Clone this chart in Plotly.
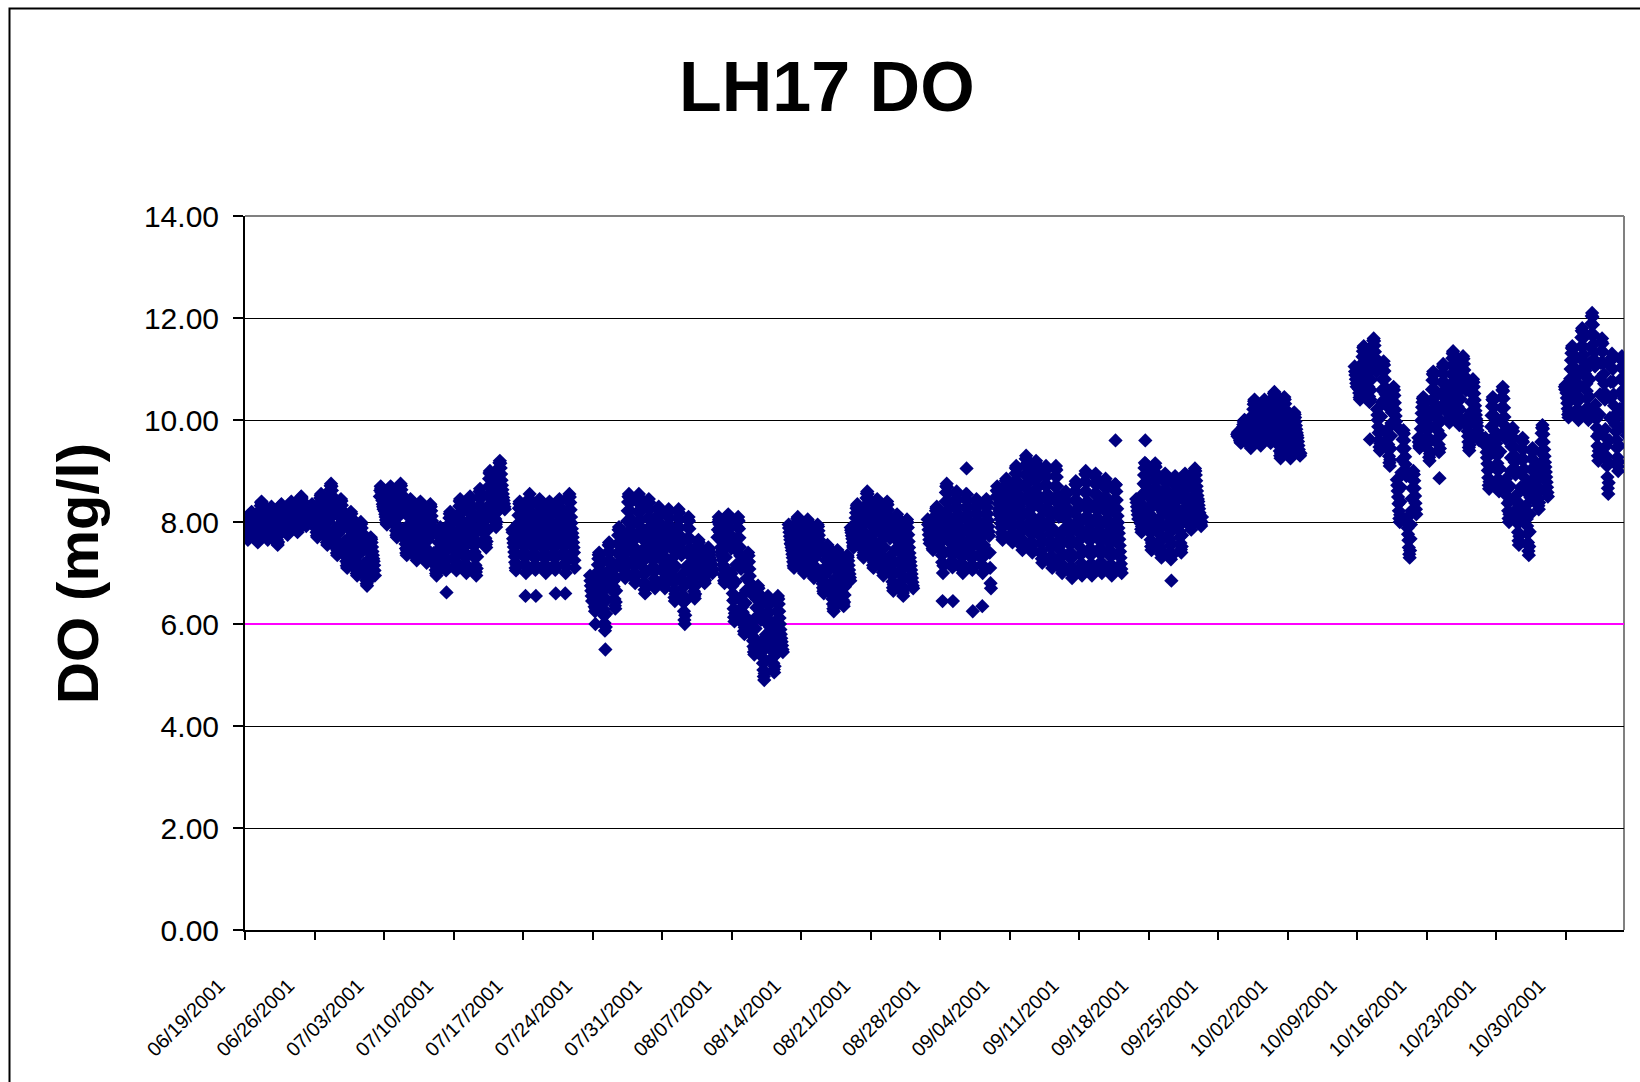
import pandas as pd
import plotly.graph_objects as go

TITLE = "LH17 DO"
Y_TITLE = "DO (mg/l)"
STANDARD_DO = 6.0
X_RANGE = ["2001-06-19 00:00", "2001-11-04 21:00"]
Y_TICKS = [0, 2, 4, 6, 8, 10, 12, 14]
X_TICK_DATES = ["2001-06-19", "2001-06-26", "2001-07-03", "2001-07-10", "2001-07-17",
                "2001-07-24", "2001-07-31", "2001-08-07", "2001-08-14", "2001-08-21",
                "2001-08-28", "2001-09-04", "2001-09-11", "2001-09-18", "2001-09-25",
                "2001-10-02", "2001-10-09", "2001-10-16", "2001-10-23", "2001-10-30"]
X_TICK_LABELS = ["06/19/2001", "06/26/2001", "07/03/2001", "07/10/2001", "07/17/2001",
                 "07/24/2001", "07/31/2001", "08/07/2001", "08/14/2001", "08/21/2001",
                 "08/28/2001", "09/04/2001", "09/11/2001", "09/18/2001", "09/25/2001",
                 "10/02/2001", "10/09/2001", "10/16/2001", "10/23/2001", "10/30/2001"]

# start time of each logger deployment; hourly readings
SEG_STARTS = ["2001-06-19 00:00", "2001-06-25 18:00", "2001-07-02 14:00", "2001-07-15 22:00",
              "2001-07-23 18:00", "2001-08-05 14:00", "2001-08-12 18:00", "2001-08-19 00:00",
              "2001-08-26 18:00", "2001-09-02 16:00", "2001-09-16 18:00", "2001-09-26 22:00",
              "2001-10-08 18:00", "2001-10-15 04:00", "2001-10-21 22:00", "2001-10-29 22:00"]

seg01 = [
    7.90, 7.87, 7.84, 7.80, 7.76, 7.72, 7.67, 7.65, 7.69, 7.77, 7.86, 7.95, 8.02, 8.09, 8.15, 8.18, 8.20, 8.18, 8.14, 8.09, 8.04, 8.00, 7.96, 7.93,
    7.97, 7.92, 7.87, 7.82, 7.76, 7.70, 7.63, 7.60, 7.66, 7.78, 7.90, 8.03, 8.14, 8.24, 8.32, 8.38, 8.40, 8.37, 8.31, 8.24, 8.17, 8.10, 8.05, 8.00,
    7.95, 7.91, 7.87, 7.83, 7.78, 7.73, 7.68, 7.65, 7.70, 7.79, 7.90, 8.00, 8.09, 8.17, 8.24, 8.28, 8.30, 8.27, 8.23, 8.17, 8.11, 8.06, 8.01, 7.98,
    7.92, 7.87, 7.82, 7.77, 7.71, 7.65, 7.58, 7.55, 7.61, 7.73, 7.85, 7.98, 8.09, 8.19, 8.27, 8.33, 8.35, 8.32, 8.26, 8.19, 8.12, 8.05, 8.00, 7.95,
    8.05, 8.01, 7.97, 7.93, 7.88, 7.83, 7.78, 7.75, 7.80, 7.89, 8.00, 8.10, 8.19, 8.27, 8.34, 8.38, 8.40, 8.37, 8.33, 8.27, 8.21, 8.16, 8.11, 8.08,
    8.12, 8.08, 8.04, 7.99, 7.94, 7.88, 7.83, 7.80, 7.86, 7.95, 8.07, 8.18, 8.28, 8.36, 8.43, 8.48, 8.50, 8.47, 8.42, 8.36, 8.30, 8.24, 8.19, 8.15,
    8.12, 8.07, 8.02, 7.97, 7.92]
seg02 = [
    8.35, 8.30, 8.22, 8.15, 8.08, 8.02,
    8.09, 8.04, 7.99, 7.93, 7.87, 7.80, 7.73, 7.70, 7.77, 7.89, 8.02, 8.16, 8.28, 8.38, 8.47, 8.52, 8.55, 8.52, 8.46, 8.38, 8.30, 8.24, 8.18, 8.13,
    8.10, 8.03, 7.96, 7.87, 7.79, 7.69, 7.60, 7.55, 7.65, 7.81, 8.01, 8.20, 8.37, 8.51, 8.63, 8.71, 8.75, 8.70, 8.62, 8.51, 8.40, 8.31, 8.22, 8.15,
    7.86, 7.79, 7.72, 7.65, 7.57, 7.48, 7.39, 7.35, 7.44, 7.59, 7.77, 7.94, 8.10, 8.23, 8.34, 8.42, 8.45, 8.41, 8.33, 8.23, 8.13, 8.04, 7.97, 7.90,
    7.61, 7.54, 7.47, 7.40, 7.32, 7.23, 7.14, 7.10, 7.19, 7.34, 7.52, 7.69, 7.85, 7.98, 8.09, 8.17, 8.20, 8.16, 8.08, 7.98, 7.88, 7.79, 7.72, 7.65,
    7.43, 7.37, 7.31, 7.23, 7.16, 7.08, 6.99, 6.95, 7.03, 7.18, 7.35, 7.52, 7.66, 7.79, 7.90, 7.97, 8.00, 7.96, 7.88, 7.79, 7.70, 7.61, 7.54, 7.48,
    7.19, 7.13, 7.07, 7.01, 6.94, 6.86, 6.79, 6.75, 6.83, 6.96, 7.11, 7.26, 7.40, 7.51, 7.61, 7.67, 7.70, 7.66, 7.60, 7.51, 7.42, 7.35, 7.28, 7.23,
    7.15, 7.05, 6.95]
seg03 = [
    8.50, 8.62, 8.70, 8.66, 8.58, 8.50, 8.42, 8.35, 8.30, 8.25,
    8.30, 8.25, 8.21, 8.15, 8.10, 8.04, 7.98, 7.95, 8.01, 8.12, 8.24, 8.36, 8.46, 8.55, 8.63, 8.68, 8.70, 8.67, 8.62, 8.55, 8.48, 8.42, 8.37, 8.33,
    8.18, 8.12, 8.06, 7.98, 7.91, 7.83, 7.74, 7.70, 7.78, 7.93, 8.10, 8.27, 8.41, 8.54, 8.65, 8.72, 8.75, 8.71, 8.63, 8.54, 8.45, 8.36, 8.29, 8.23,
    7.86, 7.79, 7.72, 7.65, 7.57, 7.48, 7.39, 7.35, 7.44, 7.59, 7.77, 7.94, 8.10, 8.23, 8.34, 8.42, 8.45, 8.41, 8.33, 8.23, 8.13, 8.04, 7.97, 7.90,
    7.78, 7.71, 7.64, 7.56, 7.48, 7.39, 7.30, 7.25, 7.34, 7.50, 7.69, 7.87, 8.03, 8.17, 8.29, 8.37, 8.40, 8.35, 8.27, 8.17, 8.07, 7.97, 7.89, 7.83,
    7.73, 7.66, 7.59, 7.51, 7.43, 7.34, 7.25, 7.20, 7.29, 7.45, 7.64, 7.82, 7.98, 8.12, 8.24, 8.32, 8.35, 8.30, 8.22, 8.12, 8.02, 7.92, 7.84, 7.78,
    7.39, 7.33, 7.27, 7.21, 7.14, 7.06, 6.99, 6.95, 7.03, 7.16, 7.31, 7.46, 7.60, 7.71, 7.81, 7.87, 7.90, 7.86, 7.80, 7.71, 7.62, 7.55, 7.48, 7.43,
    7.55, 7.48, 7.41, 7.32, 7.24, 7.14, 7.05, 6.62, 7.10, 7.26, 7.46, 7.65, 7.82, 7.96, 8.08, 8.16, 8.20, 8.15, 8.07, 7.96, 7.85, 7.76, 7.67, 7.60,
    7.69, 7.61, 7.53, 7.43, 7.33, 7.22, 7.11, 7.05, 7.16, 7.36, 7.58, 7.81, 8.00, 8.17, 8.31, 8.41, 8.45, 8.39, 8.30, 8.17, 8.04, 7.93, 7.83, 7.75,
    7.69, 7.60, 7.51, 7.41, 7.30, 7.18, 7.06, 7.00, 7.12, 7.33, 7.57, 7.81, 8.02, 8.20, 8.35, 8.46, 8.50, 8.44, 8.34, 8.20, 8.07, 7.95, 7.84, 7.75,
    7.73, 7.63, 7.53, 7.41, 7.29, 7.15, 7.02, 6.95, 7.09, 7.32, 7.60, 7.87, 8.11, 8.31, 8.48, 8.60, 8.65, 8.58, 8.46, 8.31, 8.16, 8.02, 7.90, 7.80,
    8.19, 8.10, 8.01, 7.91, 7.80, 7.68, 7.56, 7.50, 7.62, 7.83, 8.07, 8.31, 8.52, 8.70, 8.85, 8.96, 9.00, 8.94, 8.84, 8.70, 8.57, 8.45, 8.34, 8.25,
    8.50, 8.42, 8.34, 8.25, 8.16, 8.06, 7.95, 7.90, 8.00, 8.19, 8.39, 8.60, 8.78, 8.94, 9.07, 9.16, 9.20, 9.15, 9.06, 8.94, 8.82, 8.72, 8.63, 8.55,
    8.48, 8.42, 8.36, 8.30, 8.25]
seg04 = [
    7.85, 7.80,
    7.67, 7.59, 7.51, 7.41, 7.32, 7.21, 7.10, 7.05, 7.16, 7.35, 7.56, 7.78, 7.97, 8.13, 8.27, 8.36, 8.40, 8.35, 8.25, 8.13, 8.01, 7.90, 7.81, 7.73,
    7.69, 7.60, 7.51, 7.41, 7.30, 7.18, 6.55, 7.00, 7.12, 7.33, 7.57, 7.81, 8.02, 8.20, 8.35, 8.46, 8.55, 8.44, 8.34, 8.20, 8.07, 7.95, 7.84, 7.75,
    7.67, 7.58, 7.49, 7.39, 7.29, 7.17, 7.06, 6.55, 7.12, 7.32, 7.55, 7.78, 7.99, 8.16, 8.31, 8.41, 8.45, 8.39, 8.29, 8.16, 8.03, 7.91, 7.81, 7.73,
    7.64, 7.56, 7.48, 7.38, 7.28, 7.17, 7.06, 7.00, 7.11, 7.31, 7.53, 7.76, 7.95, 8.12, 8.26, 8.36, 8.40, 8.34, 8.25, 8.12, 7.99, 7.88, 7.78, 7.70,
    7.67, 7.58, 7.49, 7.39, 7.29, 7.17, 7.06, 6.60, 7.12, 7.32, 7.55, 7.78, 7.99, 8.16, 8.31, 8.41, 8.45, 8.39, 8.29, 8.16, 8.03, 7.91, 7.81, 7.73,
    7.71, 7.62, 7.53, 7.42, 7.31, 7.19, 6.60, 7.00, 7.12, 7.34, 7.59, 7.84, 8.05, 8.24, 8.40, 8.50, 8.55, 8.49, 8.38, 8.24, 8.10, 7.98, 7.87, 7.78,
    7.70, 7.60, 7.50, 7.40, 7.25, 7.10]
seg05 = [
    6.95, 6.85, 6.75, 6.65, 6.55, 6.45,
    6.75, 6.68, 6.61, 6.52, 6.44, 6.34, 6.25, 6.00, 6.30, 6.46, 6.66, 6.85, 7.02, 7.16, 7.28, 7.36, 7.40, 7.35, 7.27, 7.16, 7.05, 6.96, 6.87, 6.80,
    6.63, 6.52, 6.41, 6.29, 6.16, 6.02, 5.87, 5.50, 5.94, 6.20, 6.48, 6.77, 7.02, 7.24, 7.42, 7.55, 7.60, 7.53, 7.40, 7.24, 7.08, 6.93, 6.81, 6.70,
    7.04, 6.94, 6.84, 6.73, 6.62, 6.49, 6.36, 6.30, 6.43, 6.65, 6.91, 7.16, 7.39, 7.58, 7.74, 7.85, 7.90, 7.84, 7.72, 7.58, 7.44, 7.31, 7.20, 7.10,
    7.66, 7.56, 7.46, 7.35, 7.23, 7.10, 6.97, 6.90, 7.03, 7.26, 7.53, 7.79, 8.02, 8.22, 8.39, 8.50, 8.55, 8.48, 8.37, 8.22, 8.07, 7.94, 7.82, 7.73,
    7.61, 7.50, 7.40, 7.27, 7.15, 7.01, 6.87, 6.80, 6.94, 7.19, 7.47, 7.75, 7.99, 8.20, 8.38, 8.50, 8.55, 8.48, 8.36, 8.20, 8.04, 7.90, 7.78, 7.68,
    7.45, 7.34, 7.23, 7.10, 6.97, 6.82, 6.67, 6.60, 6.75, 7.01, 7.30, 7.60, 7.86, 8.08, 8.27, 8.39, 8.45, 8.38, 8.25, 8.08, 7.91, 7.77, 7.64, 7.53,
    7.44, 7.34, 7.24, 7.13, 7.02, 6.89, 6.76, 6.70, 6.83, 7.05, 7.31, 7.56, 7.79, 7.98, 8.14, 8.25, 8.30, 8.24, 8.12, 7.98, 7.84, 7.71, 7.60, 7.50,
    7.41, 7.32, 7.23, 7.12, 7.01, 6.89, 6.76, 6.70, 6.82, 7.04, 7.29, 7.54, 7.75, 7.94, 8.10, 8.20, 8.25, 8.19, 8.08, 7.94, 7.80, 7.68, 7.57, 7.48,
    7.28, 7.17, 7.06, 6.94, 6.81, 6.67, 6.52, 6.45, 6.59, 6.85, 7.13, 7.42, 7.67, 7.89, 8.07, 8.20, 8.25, 8.18, 8.05, 7.89, 7.73, 7.58, 7.46, 7.35,
    6.97, 6.84, 6.71, 6.57, 6.42, 6.25, 6.08, 6.00, 6.17, 6.46, 6.80, 7.13, 7.43, 7.68, 7.89, 8.04, 8.10, 8.02, 7.87, 7.68, 7.49, 7.32, 7.18, 7.05,
    7.03, 6.96, 6.89, 6.81, 6.73, 6.64, 6.55, 6.50, 6.59, 6.75, 6.94, 7.12, 7.28, 7.42, 7.54, 7.62, 7.65, 7.60, 7.52, 7.42, 7.32, 7.22, 7.14, 7.08,
    7.12, 7.08, 7.04, 6.99, 6.94, 6.88, 6.83, 6.80, 6.86, 6.95, 7.07, 7.18, 7.28, 7.36, 7.43, 7.48, 7.50, 7.47, 7.42, 7.36, 7.30, 7.24, 7.19, 7.15,
    7.10, 7.05, 7.00]
seg06 = [
    7.70, 7.85, 8.00, 8.10, 8.05, 7.95, 7.80, 7.65, 7.50, 7.40,
    7.42, 7.34, 7.26, 7.16, 7.07, 6.96, 6.85, 6.80, 6.91, 7.10, 7.31, 7.53, 7.72, 7.88, 8.02, 8.11, 8.15, 8.10, 8.00, 7.88, 7.76, 7.65, 7.56, 7.48,
    6.99, 6.87, 6.75, 6.60, 6.46, 6.30, 6.13, 6.05, 6.21, 6.50, 6.83, 7.16, 7.44, 7.69, 7.90, 8.04, 8.10, 8.02, 7.87, 7.69, 7.51, 7.34, 7.20, 7.08,
    6.54, 6.44, 6.34, 6.23, 6.12, 5.99, 5.86, 5.80, 5.93, 6.15, 6.41, 6.66, 6.89, 7.08, 7.24, 7.35, 7.40, 7.34, 7.22, 7.08, 6.94, 6.81, 6.70, 6.60,
    6.02, 5.94, 5.86, 5.76, 5.67, 5.56, 5.45, 5.40, 5.51, 5.70, 5.91, 6.13, 6.32, 6.48, 6.62, 6.71, 6.75, 6.70, 6.60, 6.48, 6.36, 6.25, 6.16, 6.08,
    5.66, 5.56, 5.46, 5.35, 5.23, 5.10, 4.97, 4.90, 5.03, 5.26, 5.53, 5.79, 6.02, 6.22, 6.39, 6.50, 6.55, 6.48, 6.37, 6.22, 6.07, 5.94, 5.82, 5.73,
    5.74, 5.65, 5.56, 5.46, 5.35, 5.23, 5.11, 5.05, 5.17, 5.38, 5.62, 5.86, 6.07, 6.25, 6.40, 6.51, 6.55, 6.49, 6.39, 6.25, 6.12, 6.00, 5.89, 5.80,
    5.72, 5.65, 5.58, 5.50, 5.45]
seg07 = [
    7.95, 7.88, 7.80, 7.72, 7.65, 7.58,
    7.56, 7.50, 7.44, 7.37, 7.30, 7.22, 7.14, 7.10, 7.18, 7.32, 7.48, 7.64, 7.78, 7.90, 8.00, 8.07, 8.10, 8.06, 7.99, 7.90, 7.81, 7.73, 7.66, 7.60,
    7.48, 7.42, 7.36, 7.28, 7.21, 7.13, 7.04, 7.00, 7.08, 7.23, 7.40, 7.57, 7.71, 7.84, 7.95, 8.02, 8.05, 8.01, 7.93, 7.84, 7.75, 7.66, 7.59, 7.53,
    7.38, 7.32, 7.26, 7.18, 7.11, 7.03, 6.94, 6.90, 6.98, 7.13, 7.30, 7.47, 7.61, 7.74, 7.85, 7.92, 7.95, 7.91, 7.83, 7.74, 7.65, 7.56, 7.49, 7.43,
    7.04, 6.98, 6.92, 6.86, 6.79, 6.71, 6.64, 6.60, 6.68, 6.81, 6.96, 7.11, 7.25, 7.36, 7.46, 7.52, 7.55, 7.51, 7.45, 7.36, 7.27, 7.20, 7.13, 7.08,
    6.80, 6.73, 6.66, 6.57, 6.49, 6.39, 6.30, 6.25, 6.35, 6.51, 6.71, 6.90, 7.07, 7.21, 7.33, 7.41, 7.45, 7.40, 7.32, 7.21, 7.10, 7.01, 6.92, 6.85,
    6.81, 6.75, 6.69, 6.62, 6.55, 6.47, 6.39, 6.35, 6.43, 6.57, 6.73, 6.89, 7.03, 7.15, 7.25, 7.32, 7.35, 7.31, 7.24, 7.15, 7.06, 6.98, 6.91, 6.85]
seg08 = [
    7.89, 7.84, 7.79, 7.73, 7.67, 7.60, 7.53, 7.50, 7.57, 7.69, 7.82, 7.96, 8.08, 8.18, 8.27, 8.32, 8.35, 8.32, 8.26, 8.18, 8.10, 8.04, 7.98, 7.93,
    7.90, 7.82, 7.74, 7.65, 7.56, 7.46, 7.35, 7.30, 7.40, 7.59, 7.79, 8.00, 8.18, 8.34, 8.47, 8.56, 8.60, 8.55, 8.46, 8.34, 8.22, 8.12, 8.03, 7.95,
    7.72, 7.64, 7.56, 7.46, 7.37, 7.26, 7.15, 7.10, 7.21, 7.40, 7.61, 7.83, 8.02, 8.18, 8.32, 8.41, 8.45, 8.40, 8.30, 8.18, 8.06, 7.95, 7.86, 7.78,
    7.62, 7.53, 7.44, 7.34, 7.24, 7.12, 7.01, 6.95, 7.07, 7.27, 7.50, 7.73, 7.94, 8.11, 8.26, 8.36, 8.40, 8.34, 8.24, 8.11, 7.98, 7.86, 7.76, 7.68,
    7.34, 7.25, 7.16, 7.06, 6.95, 6.83, 6.71, 6.65, 6.77, 6.98, 7.22, 7.46, 7.67, 7.85, 8.00, 8.11, 8.15, 8.09, 7.99, 7.85, 7.72, 7.60, 7.49, 7.40,
    7.24, 7.15, 7.06, 6.96, 6.85, 6.73, 6.61, 6.55, 6.67, 6.88, 7.12, 7.36, 7.57, 7.75, 7.90, 8.01, 8.05, 7.99, 7.89, 7.75, 7.62, 7.50, 7.39, 7.30,
    7.22, 7.14, 7.06, 6.98, 6.90, 6.82, 6.75, 6.70]
seg09 = [
    8.05, 7.95, 7.85, 7.75, 7.65, 7.58,
    7.84, 7.79, 7.74, 7.68, 7.62, 7.55, 7.48, 7.45, 7.52, 7.64, 7.77, 7.91, 8.03, 8.13, 8.22, 8.27, 8.30, 8.27, 8.21, 8.13, 8.05, 7.99, 7.93, 7.88,
    7.81, 7.70, 7.60, 7.47, 7.35, 7.21, 6.45, 7.00, 7.14, 7.39, 7.67, 7.95, 8.19, 8.40, 8.58, 8.70, 8.75, 8.68, 8.56, 8.40, 8.24, 8.10, 7.98, 7.88,
    7.76, 7.67, 7.58, 7.47, 7.36, 7.24, 7.11, 6.45, 7.17, 7.39, 7.64, 7.89, 8.10, 8.29, 8.45, 8.55, 8.60, 8.54, 8.43, 8.29, 8.15, 8.03, 7.92, 7.83,
    7.74, 7.64, 7.54, 7.43, 7.32, 7.19, 7.06, 7.00, 7.13, 7.35, 7.61, 7.86, 8.09, 8.28, 8.44, 8.55, 9.05, 8.54, 8.42, 8.28, 8.14, 8.01, 7.90, 7.80,
    7.67, 7.58, 7.49, 7.39, 7.29, 7.17, 7.06, 6.25, 7.12, 7.32, 7.55, 7.78, 7.99, 8.16, 8.31, 8.41, 8.45, 8.39, 8.29, 8.16, 8.03, 7.91, 7.81, 7.73,
    7.67, 7.58, 7.49, 7.39, 7.29, 7.17, 6.35, 7.00, 7.12, 7.32, 7.55, 7.78, 7.99, 8.16, 8.31, 8.41, 8.45, 8.39, 8.29, 8.16, 8.03, 7.91, 7.81, 7.73,
    7.40, 7.10, 6.80, 6.70]
seg10 = [
    8.50, 8.62, 8.70, 8.60, 8.48, 8.36, 8.25, 8.15,
    8.20, 8.13, 8.06, 7.97, 7.89, 7.79, 7.70, 7.65, 7.75, 7.91, 8.11, 8.30, 8.47, 8.61, 8.73, 8.81, 8.85, 8.80, 8.72, 8.61, 8.50, 8.41, 8.32, 8.25,
    8.29, 8.20, 8.11, 8.01, 7.90, 7.78, 7.66, 7.60, 7.72, 7.93, 8.17, 8.41, 8.62, 8.80, 8.95, 9.06, 9.10, 9.04, 8.94, 8.80, 8.67, 8.55, 8.44, 8.35,
    8.30, 8.19, 8.08, 7.95, 7.82, 7.67, 7.52, 7.45, 7.60, 7.86, 8.15, 8.45, 8.71, 8.93, 9.12, 9.24, 9.30, 9.23, 9.10, 8.93, 8.76, 8.62, 8.49, 8.38,
    8.23, 8.12, 8.01, 7.89, 7.76, 7.62, 7.47, 7.40, 7.54, 7.80, 8.08, 8.37, 8.62, 8.84, 9.02, 9.15, 9.20, 9.13, 9.00, 8.84, 8.68, 8.53, 8.41, 8.30,
    8.07, 7.96, 7.85, 7.71, 7.58, 7.43, 7.28, 7.20, 7.35, 7.62, 7.92, 8.23, 8.49, 8.72, 8.91, 9.04, 9.10, 9.02, 8.89, 8.72, 8.55, 8.40, 8.26, 8.15,
    8.02, 7.90, 7.78, 7.64, 7.50, 7.34, 7.18, 7.10, 7.26, 7.54, 7.86, 8.18, 8.46, 8.70, 8.90, 9.04, 9.10, 9.02, 8.88, 8.70, 8.52, 8.36, 8.22, 8.10,
    7.74, 7.64, 7.54, 7.43, 7.32, 7.19, 7.06, 7.00, 7.13, 7.35, 7.61, 7.86, 8.09, 8.28, 8.44, 8.55, 8.60, 8.54, 8.42, 8.28, 8.14, 8.01, 7.90, 7.80,
    7.77, 7.66, 7.55, 7.41, 7.28, 7.13, 6.98, 6.90, 7.05, 7.32, 7.62, 7.93, 8.19, 8.42, 8.61, 8.74, 8.80, 8.72, 8.59, 8.42, 8.25, 8.10, 7.96, 7.85,
    7.89, 7.77, 7.65, 7.50, 7.36, 7.20, 7.03, 6.95, 7.11, 7.40, 7.73, 8.06, 8.34, 8.59, 8.80, 8.94, 9.00, 8.92, 8.77, 8.59, 8.41, 8.24, 8.10, 7.98,
    7.87, 7.75, 7.63, 7.49, 7.35, 7.19, 7.03, 6.95, 7.11, 7.39, 7.71, 8.03, 8.31, 8.55, 8.75, 8.89, 8.95, 8.87, 8.73, 8.55, 8.37, 8.21, 8.07, 7.95,
    7.85, 7.74, 7.63, 7.50, 7.37, 7.22, 7.07, 7.00, 7.15, 7.41, 7.70, 8.00, 8.26, 8.48, 8.67, 8.79, 8.85, 8.78, 8.65, 8.48, 8.31, 8.17, 8.04, 7.93,
    7.80, 7.69, 7.58, 7.45, 7.32, 7.17, 7.02, 6.95, 7.10, 7.36, 7.65, 7.95, 8.21, 8.43, 8.62, 8.74, 9.60, 8.73, 8.60, 8.43, 8.26, 8.12, 7.99, 7.88,
    7.78, 7.66, 7.54, 7.42, 7.30, 7.18, 7.08, 7.00]
seg11 = [
    8.45, 8.38, 8.30, 8.22, 8.14, 8.06,
    8.44, 8.36, 8.28, 8.18, 8.08, 7.97, 7.86, 7.80, 7.91, 8.11, 8.33, 8.56, 8.75, 8.92, 9.06, 9.16, 9.60, 9.14, 9.05, 8.92, 8.79, 8.68, 8.58, 8.50,
    8.23, 8.13, 8.03, 7.91, 7.79, 7.65, 7.52, 7.45, 7.59, 7.82, 8.10, 8.37, 8.61, 8.81, 8.98, 9.10, 9.15, 9.08, 8.96, 8.81, 8.66, 8.52, 8.40, 8.30,
    8.06, 7.96, 7.86, 7.75, 7.63, 7.50, 7.37, 7.30, 7.43, 7.66, 7.93, 8.19, 8.42, 8.62, 8.79, 8.90, 8.95, 8.88, 8.77, 8.62, 8.47, 8.34, 8.22, 8.13,
    7.98, 7.88, 7.78, 7.66, 7.54, 7.40, 7.27, 6.85, 7.34, 7.57, 7.85, 8.12, 8.36, 8.56, 8.73, 8.85, 8.90, 8.83, 8.71, 8.56, 8.41, 8.27, 8.15, 8.05,
    8.11, 8.02, 7.93, 7.82, 7.71, 7.59, 7.46, 7.40, 7.52, 7.74, 7.99, 8.24, 8.45, 8.64, 8.80, 8.90, 8.95, 8.89, 8.78, 8.64, 8.50, 8.38, 8.27, 8.18,
    8.40, 8.33, 8.26, 8.17, 8.09, 7.99, 7.90, 7.85, 7.95, 8.11, 8.31, 8.50, 8.67, 8.81, 8.93, 9.01, 9.05, 9.00, 8.92, 8.81, 8.70, 8.61, 8.52, 8.45,
    8.40, 8.33, 8.26, 8.18, 8.10, 8.02, 7.95, 7.92, 8.00, 8.10]
seg12 = [
    9.72, 9.68,
    9.76, 9.73, 9.70, 9.67, 9.64, 9.60, 9.57, 9.55, 9.59, 9.65, 9.72, 9.79, 9.86, 9.91, 9.96, 9.99, 10.00, 9.98, 9.95, 9.91, 9.87, 9.83, 9.80, 9.78,
    9.89, 9.83, 9.77, 9.71, 9.64, 9.56, 9.49, 9.45, 9.53, 9.66, 9.81, 9.96, 10.10, 10.21, 10.31, 10.37, 10.40, 10.36, 10.30, 10.21, 10.12, 10.05, 9.98, 9.93,
    9.91, 9.86, 9.81, 9.74, 9.68, 9.61, 9.54, 9.50, 9.57, 9.70, 9.84, 9.99, 10.11, 10.22, 10.31, 10.37, 10.40, 10.36, 10.30, 10.22, 10.14, 10.07, 10.00, 9.95,
    10.01, 9.95, 9.89, 9.82, 9.75, 9.67, 9.59, 9.55, 9.63, 9.77, 9.93, 10.09, 10.23, 10.35, 10.45, 10.52, 10.55, 10.51, 10.44, 10.35, 10.26, 10.18, 10.11, 10.05,
    9.80, 9.73, 9.66, 9.57, 9.49, 9.39, 9.30, 9.25, 9.35, 9.51, 9.71, 9.90, 10.07, 10.21, 10.33, 10.41, 10.45, 10.40, 10.32, 10.21, 10.10, 10.01, 9.92, 9.85,
    9.66, 9.61, 9.56, 9.49, 9.43, 9.36, 9.29, 9.25, 9.32, 9.45, 9.59, 9.74, 9.86, 9.97, 10.06, 10.12, 10.15, 10.11, 10.05, 9.97, 9.89, 9.82, 9.75, 9.70,
    9.65, 9.58, 9.50, 9.42, 9.36, 9.32, 9.30, 9.35]
seg13 = [
    11.05, 10.95, 10.88, 10.80, 10.72, 10.65,
    10.88, 10.82, 10.76, 10.68, 10.61, 10.53, 10.44, 10.40, 10.48, 10.63, 10.80, 10.97, 11.11, 11.24, 11.35, 11.42, 11.45, 11.41, 11.33, 11.24, 11.15, 11.06, 10.99, 10.93,
    10.90, 10.82, 10.74, 10.65, 10.56, 10.46, 10.35, 9.62, 10.40, 10.59, 10.79, 11.00, 11.18, 11.34, 11.47, 11.56, 11.60, 11.55, 11.46, 11.34, 11.22, 11.12, 11.03, 10.95,
    10.21, 10.10, 10.00, 9.87, 9.75, 9.61, 9.47, 9.40, 9.54, 9.79, 10.07, 10.35, 10.59, 10.80, 10.98, 11.10, 11.15, 11.08, 10.96, 10.80, 10.64, 10.50, 10.38, 10.28,
    9.81, 9.72, 9.63, 9.52, 9.41, 9.29, 9.16, 9.10, 9.22, 9.44, 9.69, 9.94, 10.15, 10.34, 10.50, 10.60, 10.65, 10.59, 10.48, 10.34, 10.20, 10.08, 9.97, 9.88,
    8.83, 8.72, 8.61, 8.49, 8.36, 8.22, 8.07, 8.00, 8.14, 8.40, 8.68, 8.97, 9.22, 9.44, 9.62, 9.75, 9.80, 9.73, 9.60, 9.44, 9.28, 9.13, 9.01, 8.90,
    8.08, 7.98, 7.88, 7.76, 7.64, 7.50, 7.37, 7.30, 7.44, 7.67, 7.95, 8.22, 8.46, 8.66, 8.83, 8.95, 9.00, 8.93, 8.81, 8.66, 8.51, 8.37, 8.25, 8.15]
seg14 = [
    9.65, 9.57, 9.49, 9.45, 9.53, 9.67, 9.83, 9.99, 10.13, 10.25, 10.35, 10.42, 10.45, 10.41, 10.34, 10.25, 10.16, 10.08, 10.01, 9.95,
    10.01, 9.90, 9.80, 9.67, 9.55, 9.41, 9.27, 9.20, 9.34, 9.59, 9.87, 10.15, 10.39, 10.60, 10.78, 10.90, 10.95, 10.88, 10.76, 10.60, 10.44, 10.30, 10.18, 10.08,
    10.13, 10.02, 9.91, 9.79, 9.66, 9.52, 9.37, 8.86, 9.44, 9.70, 9.98, 10.27, 10.52, 10.74, 10.92, 11.05, 11.10, 11.03, 10.90, 10.74, 10.58, 10.43, 10.31, 10.20,
    10.59, 10.51, 10.43, 10.33, 10.23, 10.12, 10.01, 9.95, 10.06, 10.26, 10.48, 10.71, 10.90, 11.07, 11.21, 11.31, 11.35, 11.29, 11.20, 11.07, 10.94, 10.83, 10.73, 10.65,
    10.52, 10.44, 10.36, 10.26, 10.17, 10.06, 9.95, 9.90, 10.01, 10.20, 10.41, 10.63, 10.82, 10.98, 11.12, 11.21, 11.25, 11.20, 11.10, 10.98, 10.86, 10.75, 10.66, 10.58,
    10.04, 9.96, 9.88, 9.78, 9.68, 9.57, 9.46, 9.40, 9.51, 9.71, 9.93, 10.16, 10.35, 10.52, 10.66, 10.76, 10.80, 10.74, 10.65, 10.52, 10.39, 10.28, 10.18, 10.10,
    10.02, 9.95, 9.88, 9.80, 9.74, 9.68, 9.62, 9.60, 9.65]
seg15 = [
    9.65, 9.58,
    9.48, 9.37, 9.26, 9.14, 9.01, 8.87, 8.72, 8.65, 8.79, 9.05, 9.33, 9.62, 9.87, 10.09, 10.27, 10.40, 10.45, 10.38, 10.25, 10.09, 9.93, 9.78, 9.66, 9.55,
    9.54, 9.42, 9.30, 9.15, 9.01, 8.85, 8.68, 8.60, 8.76, 9.05, 9.38, 9.71, 9.99, 10.24, 10.45, 10.59, 10.65, 10.57, 10.42, 10.24, 10.06, 9.89, 9.75, 9.63,
    8.85, 8.74, 8.63, 8.50, 8.37, 8.22, 8.07, 8.00, 8.15, 8.41, 8.70, 9.00, 9.26, 9.48, 9.67, 9.79, 9.85, 9.78, 9.65, 9.48, 9.31, 9.17, 9.04, 8.93,
    8.52, 8.39, 8.26, 8.12, 7.97, 7.80, 7.63, 7.55, 7.72, 8.01, 8.35, 8.68, 8.98, 9.23, 9.44, 9.59, 9.65, 9.57, 9.42, 9.23, 9.04, 8.87, 8.73, 8.60,
    8.32, 8.19, 8.06, 7.92, 7.77, 7.60, 7.43, 7.35, 7.52, 7.81, 8.15, 8.48, 8.78, 9.03, 9.24, 9.39, 9.45, 9.37, 9.22, 9.03, 8.84, 8.67, 8.53, 8.40,
    9.01, 8.91, 8.81, 8.70, 8.58, 8.45, 8.32, 8.25, 8.38, 8.61, 8.88, 9.14, 9.37, 9.57, 9.74, 9.85, 9.90, 9.83, 9.72, 9.57, 9.42, 9.29, 9.17, 9.08,
    8.98, 8.88, 8.78, 8.68, 8.58, 8.50]
seg16 = [
    10.65, 10.60,
    10.69, 10.61, 10.53, 10.43, 10.33, 10.22, 10.11, 10.05, 10.16, 10.36, 10.58, 10.81, 11.00, 11.17, 11.31, 11.41, 11.45, 11.39, 11.30, 11.17, 11.04, 10.93, 10.83, 10.75,
    10.83, 10.72, 10.61, 10.49, 10.36, 10.22, 10.07, 10.00, 10.14, 10.40, 10.68, 10.97, 11.22, 11.44, 11.62, 11.75, 11.80, 11.73, 11.60, 11.44, 11.28, 11.13, 11.01, 10.90,
    10.97, 10.84, 10.71, 10.57, 10.42, 10.25, 10.08, 10.00, 10.17, 10.46, 10.80, 11.13, 11.43, 11.68, 11.89, 12.04, 12.10, 12.02, 11.87, 11.68, 11.49, 11.32, 11.18, 11.05,
    10.30, 10.16, 10.02, 9.85, 9.68, 9.49, 9.30, 9.20, 9.39, 9.73, 10.11, 10.50, 10.83, 11.12, 11.36, 11.53, 11.60, 11.50, 11.34, 11.12, 10.90, 10.71, 10.54, 10.40,
    9.82, 9.65, 9.49, 9.29, 9.10, 8.88, 8.66, 8.55, 8.77, 9.16, 9.60, 10.04, 10.42, 10.75, 11.03, 11.22, 11.30, 11.19, 11.00, 10.75, 10.50, 10.28, 10.09, 9.93,
    10.04, 9.90, 9.77, 9.61, 9.45, 9.27, 9.09, 9.00, 9.18, 9.50, 9.86, 10.22, 10.53, 10.80, 11.03, 11.18, 11.25, 11.16, 11.00, 10.80, 10.60, 10.42, 10.26, 10.13,
    10.02, 9.90, 9.80, 9.70]

SEGMENTS = [seg01, seg02, seg03, seg04, seg05, seg06, seg07, seg08,
            seg09, seg10, seg11, seg12, seg13, seg14, seg15, seg16]

xs, ys = [], []
for start, vals in zip(SEG_STARTS, SEGMENTS):
    xs.extend(pd.date_range(start, periods=len(vals), freq="h"))
    ys.extend(vals)

# pixel geometry of plot area
W, H = 1640, 1082
L, R, T, B = 245, 16, 216, 152
PW, PH = W - L - R, H - T - B


def px(xp):
    return (xp - L) / PW


def py(yp):
    return (H - B - yp) / PH


FONT = "Liberation Sans, Arial, sans-serif"

fig = go.Figure()
fig.add_trace(go.Scatter(x=X_RANGE, y=[STANDARD_DO, STANDARD_DO], mode="lines",
                         line=dict(color="#FF00FF", width=2), hoverinfo="skip",
                         showlegend=False))
fig.add_trace(go.Scatter(x=xs, y=ys, mode="markers",
                         marker=dict(symbol="diamond", size=11, color="#000080",
                                     line=dict(width=0)),
                         showlegend=False))

fig.update_layout(
    width=W, height=H,
    margin=dict(l=L, r=R, t=T, b=B, pad=0),
    paper_bgcolor="white", plot_bgcolor="white",
    font=dict(family=FONT, color="black"),
    showlegend=False,
    xaxis=dict(range=X_RANGE, type="date", tickvals=X_TICK_DATES, ticktext=X_TICK_LABELS,
               tickangle=-45, tickfont=dict(size=20, family=FONT, color="black"),
               ticks="outside", ticklen=8, tickwidth=2, tickcolor="black",
               showline=True, linecolor="black", linewidth=2,
               showgrid=False, zeroline=False, ticklabelstandoff=26,
               ticklabelshift=-26),
    yaxis=dict(range=[0, 14], tickvals=Y_TICKS, tickformat=".2f",
               tickfont=dict(size=30, family=FONT, color="black"),
               ticks="outside", ticklen=10, tickwidth=2, tickcolor="black",
               showline=True, linecolor="black", linewidth=2,
               showgrid=True, gridcolor="black", gridwidth=1, zeroline=False,
               ticklabelstandoff=8),
    annotations=[
        dict(text=TITLE, xref="paper", yref="paper", x=px(827), y=py(87),
             xanchor="center", yanchor="middle", showarrow=False,
             font=dict(size=70, family=FONT, color="black", weight="bold")),
        dict(text=Y_TITLE, xref="paper", yref="paper", x=px(77), y=py(574),
             xanchor="center", yanchor="middle", textangle=-90, showarrow=False,
             font=dict(size=58, family=FONT, color="black", weight="bold")),
    ],
    shapes=[
        dict(type="line", xref="paper", yref="paper", x0=0, x1=1, y0=1, y1=1,
             line=dict(color="#808080", width=2), layer="between"),
        dict(type="line", xref="paper", yref="paper", x0=1, x1=1, y0=0, y1=1,
             line=dict(color="#808080", width=2), layer="between"),
        dict(type="rect", xref="paper", yref="paper", x0=px(9.5), x1=px(1660),
             y0=py(1100), y1=py(8.5), line=dict(color="black", width=2),
             fillcolor="rgba(0,0,0,0)", layer="above"),
    ],
)

fig.write_html("out.html", config={"displayModeBar": False},
               post_script="document.body.style.margin='0';document.body.style.overflow='hidden';")
